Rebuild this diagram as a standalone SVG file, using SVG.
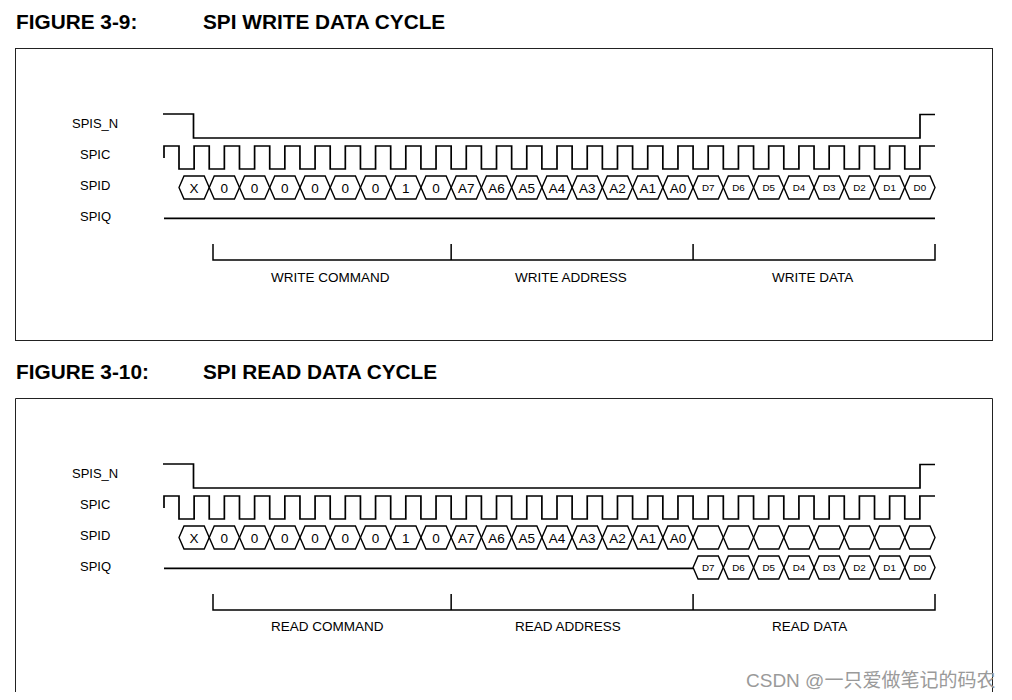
<svg xmlns="http://www.w3.org/2000/svg" xmlns:xlink="http://www.w3.org/1999/xlink" width="1012" height="700" viewBox="0 0 1012 700">
<style>
.title{font-family:"Liberation Sans",Arial,sans-serif;font-weight:bold;font-size:20.8px;fill:#000}
.sig{font-family:"Liberation Sans",Arial,sans-serif;font-size:13px;fill:#000}
.cell{font-family:"Liberation Sans",Arial,sans-serif;font-size:13.5px;fill:#000;text-anchor:middle}
.dcell{font-family:"Liberation Sans",Arial,sans-serif;font-size:9.8px;fill:#000;text-anchor:middle}
.lbl{font-family:"Liberation Sans",Arial,sans-serif;font-size:13.5px;fill:#000}
.wave{fill:none;stroke:#000;stroke-width:1.7}
.hex{fill:none;stroke:#000;stroke-width:1.4}
.box{fill:none;stroke:#222;stroke-width:1}
.br{fill:none;stroke:#000;stroke-width:1.5}
.wm{font-family:"Liberation Sans",Arial,"Noto Sans CJK SC",sans-serif;font-size:19px;fill:#9a9a9a}
</style>
<defs>
<path id="hx" d="M0,0 L5,-11.5 H25.24 L30.24,0 L25.24,11.5 H5 Z"/>
<path id="clk" d="M164,158 V146 H179 v23h15.12v-23h15.12 v23h15.12v-23h15.12 v23h15.12v-23h15.12 v23h15.12v-23h15.12 v23h15.12v-23h15.12 v23h15.12v-23h15.12 v23h15.12v-23h15.12 v23h15.12v-23h15.12 v23h15.12v-23h15.12 v23h15.12v-23h15.12 v23h15.12v-23h15.12 v23h15.12v-23h15.12 v23h15.12v-23h15.12 v23h15.12v-23h15.12 v23h15.12v-23h15.12 v23h15.12v-23h15.12 v23h15.12v-23h15.12 v23h15.12v-23h15.12 v23h15.12v-23h15.12 v23h15.12v-23h15.12 v23h15.12v-23h15.12 v23h15.12v-23h15.12 v23h15.12v-23h15.12 v23h15.12v-23h15.12 v23h15.12v-23 H935"/>
<path id="cs" d="M163,114 H193.5 V138 H920 V114.5 H935"/>
</defs>

<!-- FIGURE 3-9 -->
<g id="fig1">
<text class="title" x="16" y="29">FIGURE 3-9:</text>
<text class="title" x="203" y="29">SPI WRITE DATA CYCLE</text>
<rect class="box" x="15.5" y="48.5" width="977" height="292"/>
<g id="fig1-labels">
<text class="sig" x="72" y="128">SPIS_N</text>
<text class="sig" x="80" y="159">SPIC</text>
<text class="sig" x="80" y="190">SPID</text>
<text class="sig" x="80" y="221">SPIQ</text>
</g>
<g id="fig1-spis"><use xlink:href="#cs" class="wave"/></g>
<g id="fig1-spic"><use xlink:href="#clk" class="wave"/></g>
<g id="fig1-spid" class="hex">
<use xlink:href="#hx" x="179" y="187.5"/><use xlink:href="#hx" x="209.24" y="187.5"/><use xlink:href="#hx" x="239.48" y="187.5"/><use xlink:href="#hx" x="269.72" y="187.5"/><use xlink:href="#hx" x="299.96" y="187.5"/><use xlink:href="#hx" x="330.2" y="187.5"/><use xlink:href="#hx" x="360.44" y="187.5"/><use xlink:href="#hx" x="390.68" y="187.5"/><use xlink:href="#hx" x="420.92" y="187.5"/>
<use xlink:href="#hx" x="451.16" y="187.5"/><use xlink:href="#hx" x="481.4" y="187.5"/><use xlink:href="#hx" x="511.64" y="187.5"/><use xlink:href="#hx" x="541.88" y="187.5"/><use xlink:href="#hx" x="572.12" y="187.5"/><use xlink:href="#hx" x="602.36" y="187.5"/><use xlink:href="#hx" x="632.6" y="187.5"/><use xlink:href="#hx" x="662.84" y="187.5"/>
<use xlink:href="#hx" x="693.08" y="187.5"/><use xlink:href="#hx" x="723.32" y="187.5"/><use xlink:href="#hx" x="753.56" y="187.5"/><use xlink:href="#hx" x="783.8" y="187.5"/><use xlink:href="#hx" x="814.04" y="187.5"/><use xlink:href="#hx" x="844.28" y="187.5"/><use xlink:href="#hx" x="874.52" y="187.5"/><use xlink:href="#hx" x="904.76" y="187.5"/>
</g>
<g id="fig1-spid-text">
<text class="cell" x="194.12" y="192.5">X</text><text class="cell" x="224.36" y="192.5">0</text><text class="cell" x="254.6" y="192.5">0</text><text class="cell" x="284.84" y="192.5">0</text><text class="cell" x="315.08" y="192.5">0</text><text class="cell" x="345.32" y="192.5">0</text><text class="cell" x="375.56" y="192.5">0</text><text class="cell" x="405.8" y="192.5">1</text><text class="cell" x="436.04" y="192.5">0</text>
<text class="cell" x="466.28" y="192.5">A7</text><text class="cell" x="496.52" y="192.5">A6</text><text class="cell" x="526.76" y="192.5">A5</text><text class="cell" x="557" y="192.5">A4</text><text class="cell" x="587.24" y="192.5">A3</text><text class="cell" x="617.48" y="192.5">A2</text><text class="cell" x="647.72" y="192.5">A1</text><text class="cell" x="677.96" y="192.5">A0</text>
<text class="dcell" x="708.2" y="191">D7</text><text class="dcell" x="738.44" y="191">D6</text><text class="dcell" x="768.68" y="191">D5</text><text class="dcell" x="798.92" y="191">D4</text><text class="dcell" x="829.16" y="191">D3</text><text class="dcell" x="859.4" y="191">D2</text><text class="dcell" x="889.64" y="191">D1</text><text class="dcell" x="919.88" y="191">D0</text>
</g>
<g id="fig1-spiq"><path class="wave" d="M164,218.3 H935"/></g>
<g id="fig1-brackets">
<path class="br" d="M213,244 V260 H935 V244 M451.16,244 V260 M693.08,244 V260"/>
<text class="lbl" x="271" y="282">WRITE COMMAND</text>
<text class="lbl" x="515" y="282">WRITE ADDRESS</text>
<text class="lbl" x="772" y="282">WRITE DATA</text>
</g>
</g>

<!-- FIGURE 3-10 -->
<g id="fig2">
<text class="title" x="16" y="379">FIGURE 3-10:</text>
<text class="title" x="203" y="379">SPI READ DATA CYCLE</text>
<path class="box" d="M15.5,692 V398.5 H992.5 V692"/>
<g id="fig2-labels">
<text class="sig" x="72" y="478">SPIS_N</text>
<text class="sig" x="80" y="509">SPIC</text>
<text class="sig" x="80" y="540">SPID</text>
<text class="sig" x="80" y="571">SPIQ</text>
</g>
<g id="fig2-spis" transform="translate(0,350)"><use xlink:href="#cs" class="wave"/></g>
<g id="fig2-spic" transform="translate(0,350)"><use xlink:href="#clk" class="wave"/></g>
<g id="fig2-spid" class="hex">
<use xlink:href="#hx" x="179" y="537.5"/><use xlink:href="#hx" x="209.24" y="537.5"/><use xlink:href="#hx" x="239.48" y="537.5"/><use xlink:href="#hx" x="269.72" y="537.5"/><use xlink:href="#hx" x="299.96" y="537.5"/><use xlink:href="#hx" x="330.2" y="537.5"/><use xlink:href="#hx" x="360.44" y="537.5"/><use xlink:href="#hx" x="390.68" y="537.5"/><use xlink:href="#hx" x="420.92" y="537.5"/>
<use xlink:href="#hx" x="451.16" y="537.5"/><use xlink:href="#hx" x="481.4" y="537.5"/><use xlink:href="#hx" x="511.64" y="537.5"/><use xlink:href="#hx" x="541.88" y="537.5"/><use xlink:href="#hx" x="572.12" y="537.5"/><use xlink:href="#hx" x="602.36" y="537.5"/><use xlink:href="#hx" x="632.6" y="537.5"/><use xlink:href="#hx" x="662.84" y="537.5"/>
<use xlink:href="#hx" x="693.08" y="537.5"/><use xlink:href="#hx" x="723.32" y="537.5"/><use xlink:href="#hx" x="753.56" y="537.5"/><use xlink:href="#hx" x="783.8" y="537.5"/><use xlink:href="#hx" x="814.04" y="537.5"/><use xlink:href="#hx" x="844.28" y="537.5"/><use xlink:href="#hx" x="874.52" y="537.5"/><use xlink:href="#hx" x="904.76" y="537.5"/>
</g>
<g id="fig2-spid-text">
<text class="cell" x="194.12" y="542.5">X</text><text class="cell" x="224.36" y="542.5">0</text><text class="cell" x="254.6" y="542.5">0</text><text class="cell" x="284.84" y="542.5">0</text><text class="cell" x="315.08" y="542.5">0</text><text class="cell" x="345.32" y="542.5">0</text><text class="cell" x="375.56" y="542.5">0</text><text class="cell" x="405.8" y="542.5">1</text><text class="cell" x="436.04" y="542.5">0</text>
<text class="cell" x="466.28" y="542.5">A7</text><text class="cell" x="496.52" y="542.5">A6</text><text class="cell" x="526.76" y="542.5">A5</text><text class="cell" x="557" y="542.5">A4</text><text class="cell" x="587.24" y="542.5">A3</text><text class="cell" x="617.48" y="542.5">A2</text><text class="cell" x="647.72" y="542.5">A1</text><text class="cell" x="677.96" y="542.5">A0</text>
</g>
<g id="fig2-spiq">
<path class="wave" d="M164,568.3 H693.08"/>
<g class="hex">
<use xlink:href="#hx" x="693.08" y="567.5"/><use xlink:href="#hx" x="723.32" y="567.5"/><use xlink:href="#hx" x="753.56" y="567.5"/><use xlink:href="#hx" x="783.8" y="567.5"/><use xlink:href="#hx" x="814.04" y="567.5"/><use xlink:href="#hx" x="844.28" y="567.5"/><use xlink:href="#hx" x="874.52" y="567.5"/><use xlink:href="#hx" x="904.76" y="567.5"/>
</g>
<text class="dcell" x="708.2" y="571">D7</text><text class="dcell" x="738.44" y="571">D6</text><text class="dcell" x="768.68" y="571">D5</text><text class="dcell" x="798.92" y="571">D4</text><text class="dcell" x="829.16" y="571">D3</text><text class="dcell" x="859.4" y="571">D2</text><text class="dcell" x="889.64" y="571">D1</text><text class="dcell" x="919.88" y="571">D0</text>
</g>
<g id="fig2-brackets">
<path class="br" d="M213,594 V610 H935 V594 M451.16,594 V610 M693.08,594 V610"/>
<text class="lbl" x="271" y="631">READ COMMAND</text>
<text class="lbl" x="515" y="631">READ ADDRESS</text>
<text class="lbl" x="772" y="631">READ DATA</text>
</g>
</g>

<text class="wm" x="746" y="687">CSDN @一只爱做笔记的码农</text>
</svg>
